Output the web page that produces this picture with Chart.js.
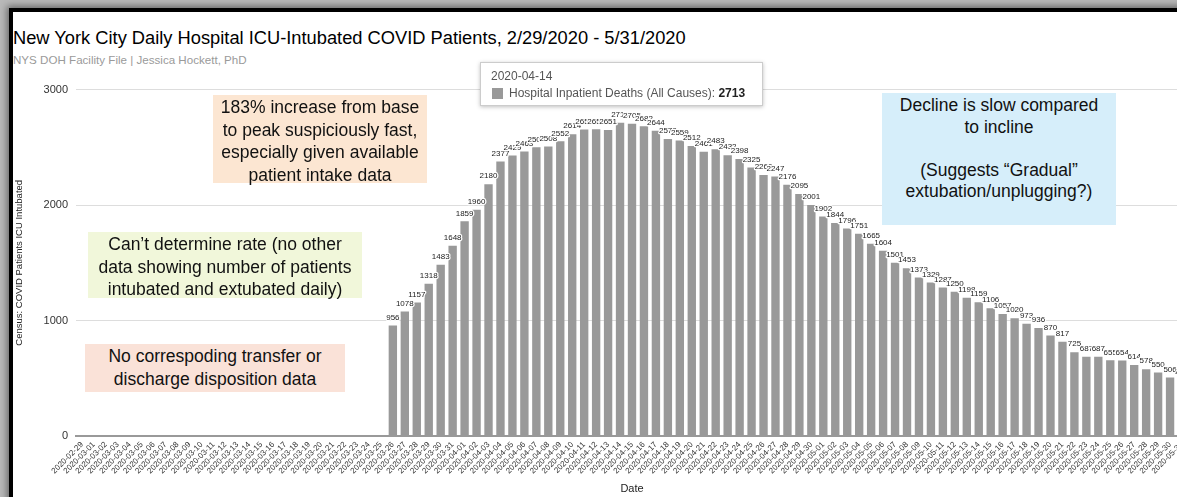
<!DOCTYPE html>
<html>
<head>
<meta charset="utf-8">
<script src="https://cdn.jsdelivr.net/npm/chart.js@4.4.1/dist/chart.umd.min.js"></script>
<style>
  html, body { margin: 0; padding: 0; width: 1177px; height: 497px; overflow: hidden; background: #b9b9b9; font-family: "Liberation Sans", Arial, sans-serif; }
  #frame { position: absolute; left: 9px; top: 8px; width: 1300px; height: 600px; background: #fff; border-left: 4px solid #000; border-top: 4px solid #000; box-shadow: -2px -2px 7px rgba(0,0,0,0.45); }
  #title { position: absolute; left: 13px; top: 27px; font-size: 18.3px; color: #000; white-space: nowrap; }
  #subtitle { position: absolute; left: 13px; top: 53px; font-size: 11.6px; color: #9a9a9a; white-space: nowrap; }
  #wrap { position: absolute; left: 13px; top: 75px; width: 1185px; height: 422px; }
  .note { position: absolute; font-size: 17.5px; line-height: 22.5px; color: #111; text-align: center; white-space: nowrap; box-sizing: border-box; }
  #tip { position: absolute; left: 480px; top: 62px; width: 281px; height: 42px; background: #fff; border: 1px solid #ccc; box-shadow: 0 1px 4px rgba(0,0,0,0.25); font-size: 12px; color: #555; }
  #tip .d { position: absolute; left: 10px; top: 6px; }
  #tip .s { position: absolute; left: 11px; top: 25px; width: 11px; height: 11px; background: #999; }
  #tip .r { position: absolute; left: 28px; top: 23px; white-space: nowrap; }
  #tip b { color: #222; }
</style>
</head>
<body>
<div id="frame"></div>
<div id="title">New York City Daily Hospital ICU-Intubated COVID Patients, 2/29/2020 - 5/31/2020</div>
<div id="subtitle">NYS DOH Facility File | Jessica Hockett, PhD</div>
<div id="wrap"><canvas id="chart"></canvas></div>

<div class="note" style="left:213px; top:95px; width:214px; height:88px; background:#fce6d2; padding-top:1px;">183% increase from base<br>to peak suspiciously fast,<br>especially given available<br>patient intake data</div>
<div class="note" style="left:88px; top:232px; width:274px; height:66px; background:#f1f7da; padding-top:1px;">Can’t determine rate (no other<br>data showing number of patients<br>intubated and extubated daily)</div>
<div class="note" style="left:85px; top:344px; width:260px; height:48px; background:#fae2d8; padding-top:1px;">No correspoding transfer or<br>discharge disposition data</div>
<div class="note" style="left:882px; top:93px; width:234px; height:132px; background:#d6eefa; padding-top:2px; line-height:21.5px;">Decline is slow compared<br>to incline<br><br>(Suggests “Gradual”<br>extubation/unplugging?)</div>

<div id="tip"><div class="d"></div><div class="s"></div><div class="r"></div></div>

<script>
// Daily census, 2020-02-29 .. 2020-05-31
const startDate = '2020-02-29';
const dayCount = 93;

// Mar 26 onward; earlier days have no census
const zeroDays = 26;
const census = [
  956, 1078, 1157, 1318, 1483, 1648, 1859, 1960, 2180, 2377,
  2429, 2463, 2500, 2508, 2552, 2614, 2654, 2656, 2651, 2713,
  2705, 2682, 2644, 2572, 2559, 2512, 2461, 2483, 2432, 2398,
  2325, 2260, 2247, 2176, 2095, 2001, 1902, 1844, 1796, 1751,
  1665, 1604, 1501, 1453, 1373, 1329, 1287, 1250, 1198, 1159,
  1106, 1057, 1020, 973, 936, 870, 817, 725, 687, 687,
  655, 654, 614, 578, 550, 506, 480
];

const yTicks = [0, 1000, 2000, 3000];
const highlightDay = '2020-04-14';

const labels = [];
const d0 = new Date(startDate + 'T00:00:00Z');
for (let i = 0; i < dayCount; i++) {
  const d = new Date(d0.getTime() + i * 86400000);
  labels.push(d.toISOString().slice(0, 10));
}
const values = new Array(zeroDays).fill(0).concat(census);

// value labels above each bar, white halo so later labels cover earlier ones
const barLabels = {
  id: 'barLabels',
  afterDatasetsDraw(chart) {
    const { ctx } = chart;
    const meta = chart.getDatasetMeta(0);
    ctx.save();
    ctx.font = '8px "Liberation Sans", Arial, sans-serif';
    ctx.textAlign = 'center';
    ctx.textBaseline = 'bottom';
    ctx.lineJoin = 'round';
    meta.data.forEach((bar, i) => {
      const v = values[i];
      if (!v) return;
      ctx.lineWidth = 2.5;
      ctx.strokeStyle = '#fff';
      ctx.strokeText(String(v), bar.x, bar.y - 4);
      ctx.fillStyle = '#222';
      ctx.fillText(String(v), bar.x, bar.y - 4);
    });
    ctx.restore();
  }
};

new Chart(document.getElementById('chart'), {
  type: 'bar',
  data: {
    labels,
    datasets: [{
      label: 'Hospital Inpatient Deaths (All Causes)',
      data: values,
      backgroundColor: '#999999',
      categoryPercentage: 1,
      barPercentage: 0.7,
    }],
  },
  options: {
    responsive: true,
    maintainAspectRatio: false,
    animation: false,
    events: [],
    layout: { padding: { top: 14, right: 10, left: 0, bottom: 0 } },
    plugins: {
      legend: { display: false },
      tooltip: { enabled: false },
    },
    scales: {
      x: {
        grid: { display: false, drawTicks: false },
        border: { display: true, color: '#999', width: 2 },
        ticks: {
          autoSkip: false,
          maxRotation: 45,
          minRotation: 45,
          padding: 4,
          color: '#333',
          font: { size: 8, family: '"Liberation Sans", Arial, sans-serif' },
        },
        title: {
          display: true,
          text: 'Date',
          color: '#222',
          padding: { top: 0, bottom: 1 },
          font: { size: 11, family: '"Liberation Sans", Arial, sans-serif' },
        },
        afterFit: s => { s.height = 61; },
      },
      y: {
        min: 0,
        max: 3000,
        afterBuildTicks: s => { s.ticks = yTicks.map(v => ({ value: v })); },
        grid: { color: '#dddddd', drawTicks: false },
        border: { display: false },
        ticks: {
          padding: 8,
          color: '#333',
          callback: v => String(v),
          font: { size: 11, family: '"Liberation Sans", Arial, sans-serif' },
        },
        title: {
          display: true,
          text: 'Census: COVID Patients ICU Intubated',
          color: '#222',
          padding: { top: 1, bottom: 0 },
          font: { size: 9.5, family: '"Liberation Sans", Arial, sans-serif' },
        },
        afterFit: s => { s.width = 63; },
      },
    },
  },
  plugins: [barLabels],
});

// hover card for the highlighted day
const hi = labels.indexOf(highlightDay);
document.querySelector('#tip .d').textContent = highlightDay;
document.querySelector('#tip .r').innerHTML = 'Hospital Inpatient Deaths (All Causes): <b>' + values[hi] + '</b>';
</script>
</body>
</html>
